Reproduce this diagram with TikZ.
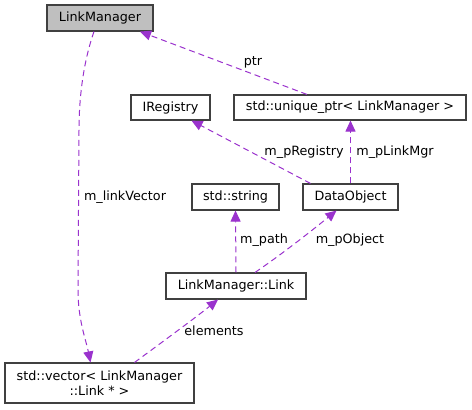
\documentclass[tikz,border=0pt]{standalone}
\usepackage{fontspec}
\setmainfont{DejaVu Sans}
\usetikzlibrary{arrows.meta}
\definecolor{edgec}{HTML}{9A32CD}
\definecolor{boxc}{HTML}{404040}
\begin{document}
\begin{tikzpicture}[x=1bp,y=-1bp,
  every node/.style={font=\fontsize{12.8}{14.5}\selectfont},
  cls/.style={draw=boxc,line width=1.1bp,fill=white,inner sep=0pt,align=center},
  edge/.style={draw=edgec,line width=1bp,dash pattern=on 6bp off 4bp,-{Triangle[length=11bp,width=10bp,fill=edgec]}},
  lbl/.style={inner sep=0pt,text=black}]
\useasboundingbox (0,0) rectangle (472,409);
\node[cls,fill=black!25,minimum width=106bp,minimum height=26bp] (LM) at (100,18) {LinkManager};
\node[cls,minimum width=79bp,minimum height=25bp] (IR) at (170.5,107.5) {IRegistry};
\node[cls,minimum width=232bp,minimum height=25bp] (UP) at (350,107.5) {std::unique\_ptr< LinkManager >};
\node[cls,minimum width=87bp,minimum height=26bp] (SS) at (235.5,197) {std::string};
\node[cls,minimum width=95bp,minimum height=26bp] (DO) at (350.5,197) {DataObject};
\node[cls,minimum width=140bp,minimum height=26bp] (LL) at (236,286) {LinkManager::Link};
\node[cls,minimum width=189bp,minimum height=40bp] (VEC) at (99.5,383) {std::vector< LinkManager\\::Link * >};

\draw[edge] ([xshift=-43bp]UP.north) -- ([xshift=40bp]LM.south);
\node[lbl] (lptr) at (253,62) {ptr};

\draw[edge] ([xshift=-6bp]LM.south) .. controls (84,60) and (79,95) .. (79,130) -- (78,290) .. controls (78,320) and (86,340) .. ([xshift=-9bp]VEC.north);
\node[lbl] (llv) at (125,197) {m\_linkVector};

\draw[edge] ([xshift=-40bp]DO.north) -- ([xshift=21bp]IR.south);
\node[lbl] (lreg) at (304,152) {m\_pRegistry};

\draw[edge] (DO.north) -- (DO.north |- UP.south);
\node[lbl] (lmgr) at (395,152) {m\_pLinkMgr};

\draw[edge] (LL.north) -- (SS.south);
\node[lbl] (lpath) at (264,240) {m\_path};

\draw[edge] ([xshift=19bp]LL.north) .. controls (285,252) and (315,228) .. ([xshift=-14bp]DO.south);
\node[lbl] (lobj) at (350,240) {m\_pObject};

\draw[edge] ([xshift=35bp]VEC.north) .. controls (165,340) and (195,318) .. ([xshift=-18bp]LL.south);
\node[lbl] (lel) at (214,331) {elements};
\end{tikzpicture}
\end{document}
